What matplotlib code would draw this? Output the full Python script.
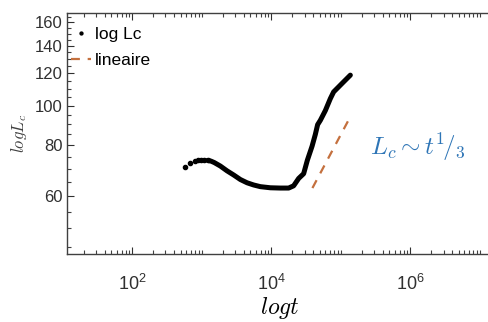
import numpy as np
import matplotlib
matplotlib.use("Agg")
import matplotlib.pyplot as plt
from matplotlib.ticker import FixedLocator, FuncFormatter, LogLocator, NullFormatter

plt.rcParams['font.family'] = ['Liberation Sans', 'DejaVu Sans']

# log Lc data
t_vals = [566, 684, 788, 881, 973, 1086, 1211, 1355, 1512, 1846, 2305, 2871,
          3581, 4471, 5564, 6948, 9677, 13470, 17740, 20930, 24720, 29170,
          33000, 38540, 42970, 46360, 50700, 59840, 70630, 78780, 92950,
          109700, 137000]
lc_vals = [70.6, 72.2, 73.1, 73.4, 73.6, 73.6, 73.4, 73.1, 72.5, 71.1, 69.2,
           67.6, 65.9, 64.7, 63.9, 63.3, 62.9, 62.8, 62.8, 63.6, 66.3, 68.1,
           73.5, 79.5, 85.0, 89.8, 92.0, 97.2, 104.0, 108.0, 111.1, 114.3,
           118.7]

# t^(1/3) guide line
lin_t = [3.9e4, 1.32e5]
lin_lc = [62.8, 92.8]

yticks = [60, 80, 100, 120, 140, 160]
yminor = [45, 50, 55, 65, 70, 75, 85, 90, 95, 105, 110, 115, 125, 130, 135,
          145, 150, 155, 165]

fig = plt.figure(figsize=(4.88, 3.22), dpi=100)
ax = fig.add_axes([67 / 488, 68 / 322, 447.6 / 488, 241 / 322])

t = np.array(t_vals)
lc = np.array(lc_vals)
sparse = t < 1300
dense = t >= 1211
ax.plot(t[dense], lc[dense], '-', color='black', lw=3.6, solid_capstyle='round',
        solid_joinstyle='round')
ax.plot(t[sparse], lc[sparse], '.', color='black', ms=6, label='log Lc')
ax.plot(lin_t, lin_lc, '--', color='#c4703e', lw=1.6, dashes=(4, 3.5),
        label='lineaire')

ax.set_xscale('log')
ax.set_yscale('log')
ax.set_xlim(10 ** 1.06, 10 ** 7.5)
ax.set_ylim(43.3, 168.5)

ax.xaxis.set_major_locator(FixedLocator([1e2, 1e4, 1e6]))
ax.xaxis.set_minor_locator(LogLocator(base=10, subs=np.arange(1, 10), numticks=20))
ax.xaxis.set_major_formatter(FuncFormatter(
    lambda v, p: r'$\mathregular{10^{%d}}$' % round(np.log10(v))))
ax.xaxis.set_minor_formatter(NullFormatter())
ax.yaxis.set_major_locator(FixedLocator(yticks))
ax.yaxis.set_minor_locator(FixedLocator(yminor))
ax.yaxis.set_major_formatter(FuncFormatter(lambda v, p: '%d' % v))
ax.yaxis.set_minor_formatter(NullFormatter())

ax.tick_params(which='both', direction='in', top=True, right=False,
               color='#404040', width=0.8)
ax.tick_params(which='major', length=5)
ax.tick_params(which='minor', length=3)
ax.tick_params(axis='x', labelsize=13, pad=14, colors='#303030')
ax.tick_params(axis='y', labelsize=12, pad=3, colors='#303030')
for s in ax.spines.values():
    s.set_color('#404040')
    s.set_linewidth(1.0)

ax.set_xlabel(r'$logt$', fontsize=17, math_fontfamily='cm')
ax.xaxis.set_label_coords(0.476, -0.17)
ax.set_ylabel(r'$logL_c$', fontsize=12, math_fontfamily='cm', color='#404040')
ax.yaxis.set_label_coords(-0.085, 0.5)

ax.legend(loc='upper left', frameon=False, fontsize=12.5, handlelength=1.15,
          handletextpad=0.2, labelspacing=0.6, borderaxespad=0.0,
          borderpad=0.25, markerscale=0.7, bbox_to_anchor=(0.0, 0.96))

ax.text(0.677, 0.41, r'$L_c{\sim}t^{1}\!/_{3}$', transform=ax.transAxes,
        fontsize=18, color='#2e75b6', math_fontfamily='cm', va='baseline')

fig.savefig('out.png', dpi=100)
